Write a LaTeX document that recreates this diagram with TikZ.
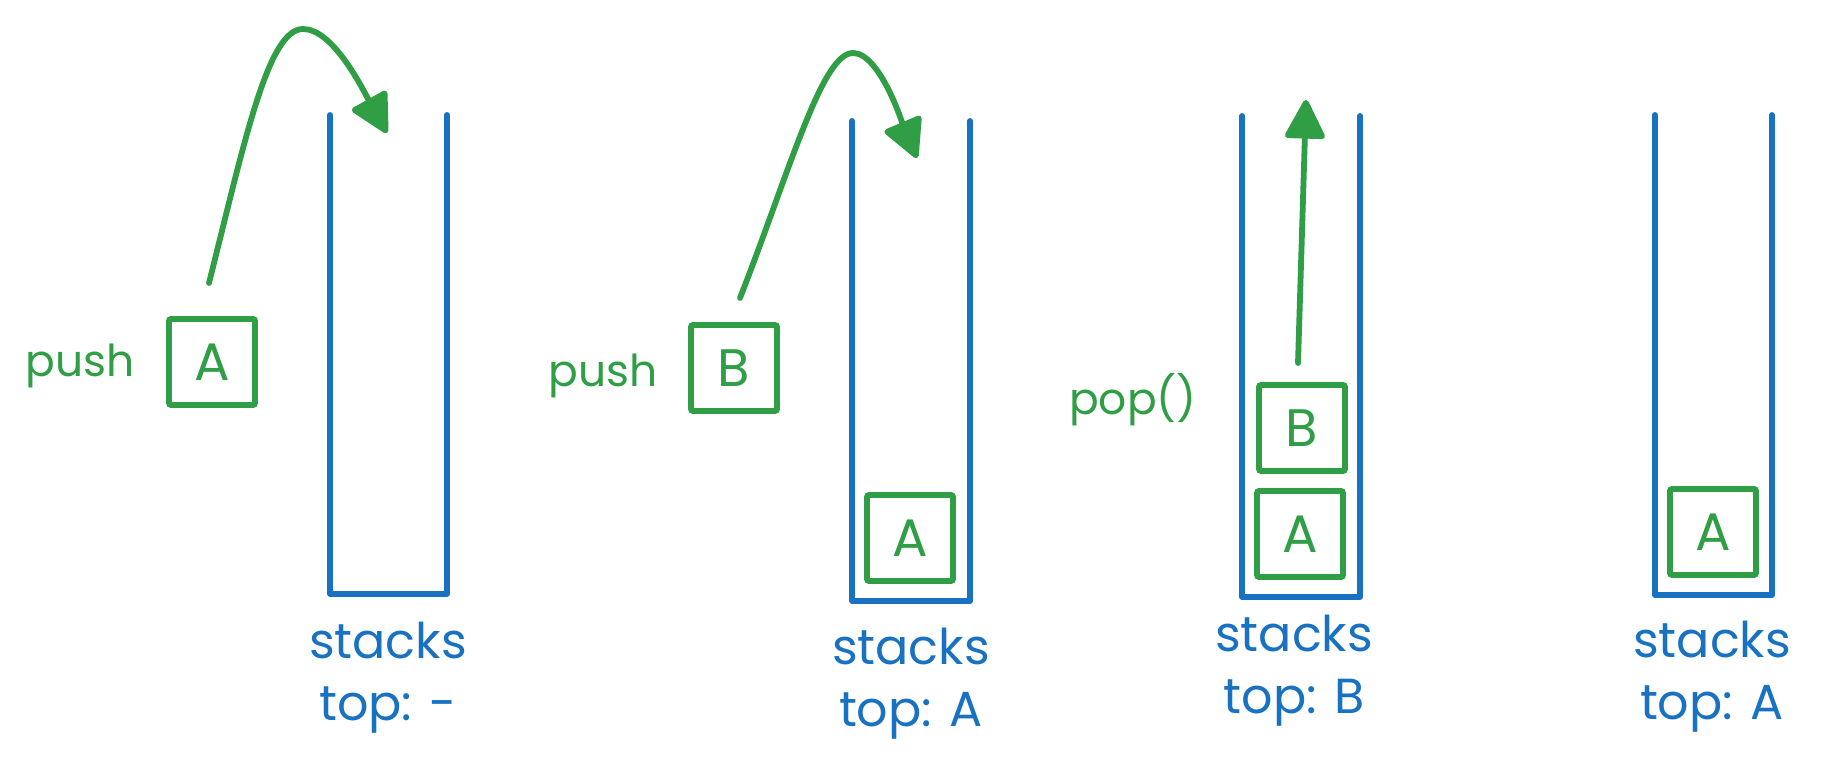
\documentclass[tikz,border=0pt]{standalone}
\usepackage{fontspec}
\setmainfont{Poppins}
\usepackage{xcolor}
\usepackage{tikz}
\usetikzlibrary{arrows.meta}
\definecolor{bg}{HTML}{FFFFFF}
\definecolor{stackblue}{HTML}{1971C2}
\definecolor{itemgreen}{HTML}{2F9E44}
\tikzset{
  wall/.style={draw=stackblue, line width=1.65pt, line cap=round, line join=round},
  elem/.style={draw=itemgreen, line width=1.65pt, rounded corners=0.6pt, minimum size=0.86cm, inner sep=0pt, text=itemgreen, font=\fontsize{15}{18}\selectfont},
  flow/.style={draw=itemgreen, line width=1.65pt, line cap=round, -{Triangle[length=12pt,width=12pt,round]}},
  oplab/.style={text=itemgreen, font=\fontsize{12.5}{15}\selectfont},
  stlab/.style={text=stackblue, align=center, inner sep=0pt, anchor=north, font=\fontsize{14}{17.6}\selectfont}
}

\begin{document}
\begin{tikzpicture}[x=0.01cm, y=-0.01cm]
  \fill[bg] (0,0) rectangle (1822,768);
  \useasboundingbox (0,0) rectangle (1822,768);

  % the four stacks
  \draw[wall] (330,115) -- (330,594) -- (447,594) -- (447,115);
  \draw[wall] (852,121) -- (852,601) -- (970,601) -- (970,121);
  \draw[wall] (1242,116) -- (1242,597) -- (1360,597) -- (1360,116);
  \draw[wall] (1655,115) -- (1655,595) -- (1772,595) -- (1772,115);

  % step 1: push A
  \node[oplab] (push1) at (80,366) {push};
  \node[elem] (inA1) at (212,362) {A};
  \coordinate (a1s) at (209,283);
  \coordinate (a1p) at (303,29);
  \coordinate (a1e) at (387,133);
  \draw[flow] (a1s) .. controls (245,140) and (268,29) .. (a1p)
                    .. controls (333,29) and (362,88) .. (a1e);

  % step 2: push B
  \node[oplab] (push2) at (603,376) {push};
  \node[elem] (inB2) at (734,368) {B};
  \node[elem] (stA2) at (910,538) {A};
  \coordinate (a2s) at (740,298);
  \coordinate (a2p) at (853,53);
  \coordinate (a2e) at (917,158);
  \draw[flow] (a2s) .. controls (790,170) and (822,53) .. (a2p)
                    .. controls (880,53) and (903,125) .. (a2e);

  % step 3: pop()
  \node[oplab] (pop3) at (1133,400) {pop()};
  \node[elem] (stB3) at (1302,428) {B};
  \node[elem] (stA3) at (1300,534) {A};
  \coordinate (a3s) at (1298,363);
  \coordinate (a3e) at (1306,100);
  \draw[flow] (a3s) -- (a3e);

  % step 4
  \node[elem] (stA4) at (1713,532) {A};

  \node[stlab] (lab1) at (388,621) {stacks\\top: -};
  \node[stlab] (lab2) at (911,627) {stacks\\top: A};
  \node[stlab] (lab3) at (1294,614) {stacks\\top: B};
  \node[stlab] (lab4) at (1712,620) {stacks\\top: A};
\end{tikzpicture}
\end{document}
